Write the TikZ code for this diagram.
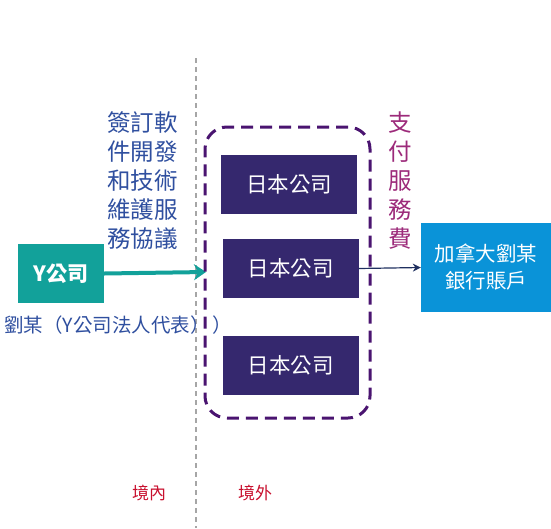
\documentclass[tikz,border=0pt]{standalone}
\usepackage{fontspec}
\setmainfont{Noto Sans CJK TC}
\usetikzlibrary{arrows.meta}
\definecolor{teal1}{HTML}{12A19A}
\definecolor{jp}{HTML}{35286E}
\definecolor{bank}{HTML}{0A93D8}
\definecolor{txtblue}{HTML}{2F4F9F}
\definecolor{dpurp}{HTML}{4A1470}
\definecolor{magp}{HTML}{9C2A7A}
\definecolor{navy}{HTML}{1F2F5F}
\definecolor{redt}{HTML}{C8102E}
\tikzset{
  jpbox/.style={fill=jp, minimum width=136pt, minimum height=59pt, inner sep=0pt, text=white, font=\fontsize{21.5}{24}\selectfont},
  vlabel/.style={align=left, font=\fontsize{23.5}{29}\selectfont, inner sep=0pt},
}
\begin{document}
\begin{tikzpicture}[x=1pt,y=-1pt]
\useasboundingbox (0,0) rectangle (551,528);
% border dashed line
\coordinate (lt) at (196,58);
\coordinate (lb) at (196,528);
\draw[gray!70, dashed, line width=1.2pt, dash pattern=on 5pt off 4pt] (lt) -- (lb);
% Y company
\node[fill=teal1, minimum width=86pt, minimum height=59pt, inner sep=0pt, text=white, font=\bfseries\fontsize{21}{24}\selectfont] (y) at (61,273.5) {Y公司};
\coordinate (ya) at (206,272);
\draw[teal1, line width=4pt, -{Stealth[length=12pt,width=16pt]}] (y.east) -- (ya);
% agreement text
\node[vlabel, text=txtblue, anchor=north west] (agr) at (107,111) {簽訂軟\\件開發\\和技術\\維護服\\務協議};
\node[text=txtblue, anchor=west, font=\fontsize{19.5}{22}\selectfont, inner sep=0pt] (liu) at (4,325) {劉某（Y公司法人代表）\,）};
% dashed group
\node[draw=dpurp, line width=3pt, dash pattern=on 12pt off 7pt, rounded corners=22pt, minimum width=165pt, minimum height=291pt, inner sep=0pt] (grp) at (287.5,272.5) {};
\node[jpbox] (j1) at (289,184.5) {日本公司};
\node[jpbox] (j2) at (290.5,268.5) {日本公司};
\node[jpbox] (j3) at (290.5,365.5) {日本公司};
% bank
\node[fill=bank, minimum width=130pt, minimum height=89pt, inner sep=0pt, text=white, align=center, font=\fontsize{20.5}{27}\selectfont] (bk) at (486,267.5) {加拿大劉某\\銀行賬戶};
\draw[navy, line width=1.2pt, -{Stealth[length=8pt,width=8pt]}] (j2.east) -- (bk.west);
\node[vlabel, text=magp, anchor=north west] (pay) at (388,112) {支\\付\\服\\務\\費};
% labels
\node[text=redt, font=\fontsize{17}{19}\selectfont] (in) at (149,493) {境內};
\node[text=redt, font=\fontsize{17}{19}\selectfont] (out) at (255,493) {境外};
\end{tikzpicture}
\end{document}
